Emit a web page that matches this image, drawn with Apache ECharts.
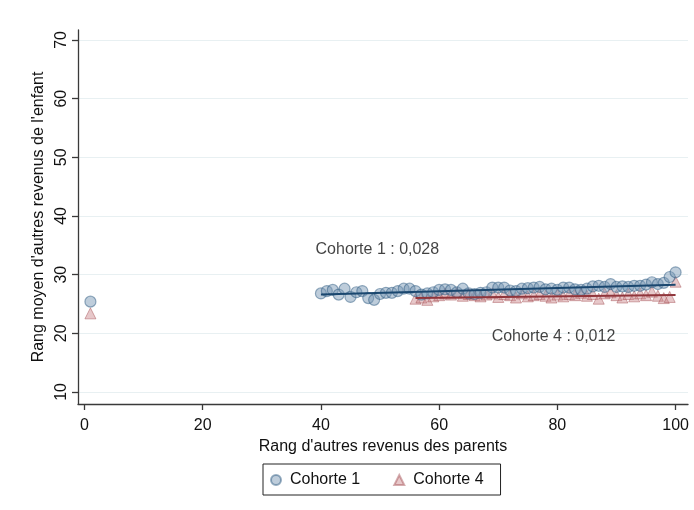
<!DOCTYPE html>
<html>
<head>
<meta charset="utf-8">
<script src="https://cdn.jsdelivr.net/npm/echarts@6/dist/echarts.min.js"></script>
<style>
  html, body { margin: 0; padding: 0; background: #ffffff; }
  #chart { width: 694px; height: 510px; }
</style>
</head>
<body>
<div id="chart"></div>
<script>
// Parent rank (x) and mean child rank (y) per cohort
const cohort1X = [1].concat(Array.from({ length: 61 }, (_, i) => 40 + i));
const cohort1Y = [25.4,
  26.8, 27.2, 27.4, 26.6, 27.6, 26.2, 27.0, 27.2, 26.0, 25.7,
  26.7, 26.9, 26.9, 27.2, 27.6, 27.6, 27.2, 26.6, 26.8, 27.0,
  27.4, 27.5, 27.4, 27.0, 27.6, 26.8, 26.7, 26.9, 27.0, 27.8,
  27.8, 27.8, 27.3, 27.2, 27.6, 27.7, 27.8, 27.9, 27.5, 27.6,
  27.4, 27.8, 27.8, 27.5, 27.4, 27.6, 28.0, 28.1, 27.9, 28.4,
  27.9, 28.0, 27.9, 28.1, 28.1, 28.3, 28.7, 28.4, 28.6, 29.6,
  30.4];

const cohort4X = [1].concat(Array.from({ length: 45 }, (_, i) => 56 + i));
const cohort4Y = [23.4,
  25.9, 26.1, 25.7, 26.3, 26.5, 26.8, 26.6, 26.9, 26.4, 26.7,
  26.5, 26.3, 26.6, 26.8, 26.2, 26.7, 26.5, 26.1, 26.8, 26.3,
  26.5, 26.7, 26.4, 26.1, 26.6, 26.3, 26.7, 26.5, 26.9, 26.4,
  26.7, 25.9, 26.8, 27.0, 26.5, 26.1, 26.7, 26.3, 26.8, 26.5,
  27.1, 26.4, 26.0, 26.2, 28.8];

// Linear fits: slope as labelled, start value at the first rank of the fitted range
const fit1 = { from: 40, to: 100, start: 26.6, slope: 0.028 };
const fit4 = { from: 56, to: 100, start: 26.0, slope: 0.012 };

const xTicks = [0, 20, 40, 60, 80, 100];
const yTicks = [10, 20, 30, 40, 50, 60, 70];

const slopeLabels = [
  { name: 'Cohorte 1', slope: '0,028', x: 39.0, y: 34.3 },
  { name: 'Cohorte 4', slope: '0,012', x: 68.8, y: 19.4 }
];

const zip = (xs, ys) => xs.map((x, i) => [x, ys[i]]);
const fitLine = f => [[f.from, f.start], [f.to, f.start + f.slope * (f.to - f.from)]];

const FONT = 'Liberation Sans, Arial, sans-serif';
const AXIS_COLOR = '#3a3a3a';

const chart = echarts.init(document.getElementById('chart'), null, { renderer: 'canvas' });

chart.setOption({
  animation: false,
  backgroundColor: '#ffffff',
  textStyle: { fontFamily: FONT },
  grid: { left: 78, right: 6, top: 30, bottom: 106, containLabel: false },
  xAxis: {
    type: 'value',
    min: -1.1,
    max: 102.1,
    name: "Rang d'autres revenus des parents",
    nameLocation: 'middle',
    nameGap: 33,
    nameTextStyle: { fontSize: 16, color: '#111', fontFamily: FONT },
    axisLine: { show: true, onZero: false, lineStyle: { color: AXIS_COLOR, width: 1.3 } },
    axisTick: { show: true, inside: false, customValues: xTicks, length: 6, lineStyle: { color: AXIS_COLOR, width: 1.3 } },
    axisLabel: { customValues: xTicks, fontSize: 16, color: '#111', margin: 14, fontFamily: FONT },
    splitLine: { show: false }
  },
  yAxis: {
    type: 'value',
    min: 7.95,
    max: 71.7,
    name: "Rang moyen d'autres revenus de l'enfant",
    nameLocation: 'middle',
    nameGap: 28,
    nameRotate: 90,
    nameTextStyle: { fontSize: 16, color: '#111', fontFamily: FONT },
    axisLine: { show: true, onZero: false, lineStyle: { color: AXIS_COLOR, width: 1.3 } },
    axisTick: { show: true, inside: false, customValues: yTicks, length: 6, lineStyle: { color: AXIS_COLOR, width: 1.3 } },
    axisLabel: { customValues: yTicks, fontSize: 16, color: '#111', rotate: 90, margin: 8, fontFamily: FONT },
    splitLine: { show: true, customValues: yTicks, lineStyle: { color: '#e8f0f2', width: 1.2 } }
  },
  legend: {
    left: 263,
    top: 464,
    orient: 'horizontal',
    data: ['Cohorte 1', 'Cohorte 4'],
    itemWidth: 10,
    itemHeight: 10,
    itemGap: 33,
    padding: [8, 17, 7, 7],
    borderColor: '#222',
    borderWidth: 1,
    borderRadius: 0,
    textStyle: { fontSize: 16, color: '#111', fontFamily: FONT, padding: [0, 0, 0, 4] }
  },
  series: [
    {
      name: 'Cohorte 1',
      type: 'scatter',
      data: zip(cohort1X, cohort1Y),
      symbol: 'circle',
      symbolSize: 11,
      itemStyle: { color: 'rgba(120,150,180,0.6)', borderColor: 'rgba(40,85,125,0.6)', borderWidth: 1.2 },
      z: 3
    },
    {
      name: 'Cohorte 4',
      type: 'scatter',
      data: zip(cohort4X, cohort4Y),
      symbol: 'triangle',
      symbolSize: 11,
      itemStyle: { color: 'rgba(200,130,135,0.55)', borderColor: 'rgba(160,70,76,0.55)', borderWidth: 1 },
      z: 2
    },
    {
      name: 'fit1',
      type: 'line',
      data: fitLine(fit1),
      symbol: 'none',
      lineStyle: { color: '#1a476f', width: 2 },
      z: 5
    },
    {
      name: 'fit4',
      type: 'line',
      data: fitLine(fit4),
      symbol: 'none',
      lineStyle: { color: '#90353b', width: 2 },
      z: 4
    },
    {
      name: 'slopes',
      type: 'scatter',
      data: slopeLabels.map(s => ({ value: [s.x, s.y], name: s.name + ' : ' + s.slope })),
      symbolSize: 1,
      itemStyle: { color: 'rgba(0,0,0,0)' },
      label: {
        show: true,
        position: 'right',
        distance: 0,
        formatter: p => p.name,
        fontSize: 16,
        color: '#111',
        fontFamily: FONT
      },
      silent: true,
      z: 6
    }
  ]
});
</script>
</body>
</html>
